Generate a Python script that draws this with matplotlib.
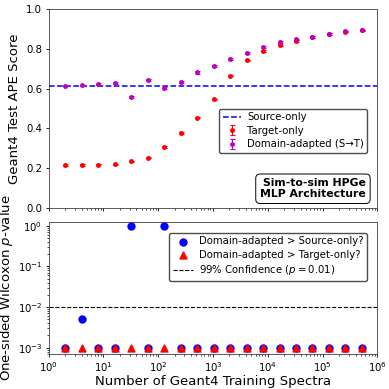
#!/usr/bin/env python3
# %% load libraries
import numpy as np
import matplotlib
matplotlib.use('Agg')
import matplotlib.pyplot as plt

# %% data
n_train = [2, 4, 8, 16, 32, 64, 128, 256, 512, 1024, 2048, 4096, 8192,
           16384, 32768, 65536, 131072, 262144, 524288]
source_only = 0.614
target_only = [0.216, 0.216, 0.218, 0.220, 0.236, 0.253, 0.307, 0.377, 0.454,
               0.547, 0.664, 0.743, 0.788, 0.817, 0.839, 0.859, 0.874, 0.886,
               0.892]
target_err = [0.003, 0.003, 0.003, 0.003, 0.003, 0.003, 0.003, 0.003, 0.003,
              0.003, 0.003, 0.003, 0.004, 0.003, 0.003, 0.003, 0.003, 0.003,
              0.003]
adapted = [0.615, 0.617, 0.622, 0.629, 0.558, 0.642, 0.604, 0.634, 0.681,
           0.714, 0.748, 0.781, 0.810, 0.832, 0.847, 0.860, 0.874, 0.887,
           0.892]
adapted_err = [0.003, 0.003, 0.004, 0.005, 0.007, 0.006, 0.006, 0.006, 0.007,
               0.004, 0.004, 0.005, 0.005, 0.005, 0.004, 0.004, 0.003, 0.004,
               0.004]
p_vs_source = [1e-3, 5e-3, 1e-3, 1e-3, 1.0, 1e-3, 1.0, 1e-3, 1e-3, 1e-3,
               1e-3, 1e-3, 1e-3, 1e-3, 1e-3, 1e-3, 1e-3, 1e-3, 1e-3]
p_vs_target = [1e-3] * 19

# %% figure
plt.rcParams['axes.linewidth'] = 0.6
plt.rcParams['axes.edgecolor'] = '0.25'
fig = plt.figure(figsize=(3.89, 3.89), dpi=100)
ax1 = fig.add_axes([0.125, 0.465, 0.845, 0.512])
ax2 = fig.add_axes([0.125, 0.09, 0.845, 0.34], sharex=ax1)

# --+ top panel
ax1.axhline(source_only, color='blue', ls='--', lw=1.1, label='Source-only')
ax1.errorbar(n_train, target_only, yerr=target_err, fmt='o', color='red',
             ms=2.5, capsize=1.8, elinewidth=0.8, capthick=0.8,
             label='Target-only')
ax1.errorbar(n_train, adapted, yerr=adapted_err, fmt='o', color='m',
             ms=2.5, capsize=1.8, elinewidth=0.8, capthick=0.8,
             label='Domain-adapted (S\u2192T)')
ax1.set_xscale('log')
ax1.set_xlim(1, 1e6)
ax1.set_ylim(0, 1)
ax1.set_yticks(np.arange(0, 1.01, 0.2))
ax1.set_ylabel('Geant4 Test APE Score', fontsize=9.5)
ax1.tick_params(labelsize=7.3, labelbottom=False, length=2.5, width=0.6,
                pad=2)
ax1.tick_params(which='minor', length=1.5, width=0.5)
ax1.legend(loc='upper right', bbox_to_anchor=(0.985, 0.525), fontsize=7.3,
           framealpha=1, edgecolor='0.3', fancybox=True, handlelength=1.8,
           borderpad=0.35, labelspacing=0.35, handletextpad=0.6)
ax1.text(0.965, 0.045, 'Sim-to-sim HPGe\nMLP Architecture',
         transform=ax1.transAxes, ha='right', va='bottom',
         multialignment='right', fontsize=7.8, fontweight='bold',
         linespacing=1.1,
         bbox=dict(boxstyle='round,pad=0.4', fc='white', ec='black', lw=0.7))

# --+ bottom panel
ax2.scatter(n_train, p_vs_source, color='blue', s=25, marker='o',
            label='Domain-adapted > Source-only?', zorder=3)
ax2.scatter(n_train, p_vs_target, color='red', s=25, marker='^',
            label='Domain-adapted > Target-only?', zorder=4)
ax2.axhline(0.01, color='black', ls='--', lw=0.8,
            label='99% Confidence ($p = 0.01$)')
ax2.set_yscale('log')
ax2.set_ylim(7e-4, 1.25)
ax2.set_xlim(1, 1e6)
ax2.set_xlabel('Number of Geant4 Training Spectra', fontsize=9.5, labelpad=1)
ax2.set_ylabel('One-sided Wilcoxon $p$-value', fontsize=9.5, labelpad=2)
ax2.tick_params(labelsize=7.3, length=2.5, width=0.6, pad=2)
ax2.tick_params(which='minor', length=1.5, width=0.5)
ax2.legend(loc='upper right', bbox_to_anchor=(0.985, 0.955), fontsize=7.3,
           framealpha=1, edgecolor='0.3', fancybox=True, borderpad=0.35,
           labelspacing=0.35, handletextpad=0.6)

# --+ save plot
plt.savefig('out.png', dpi=100)
